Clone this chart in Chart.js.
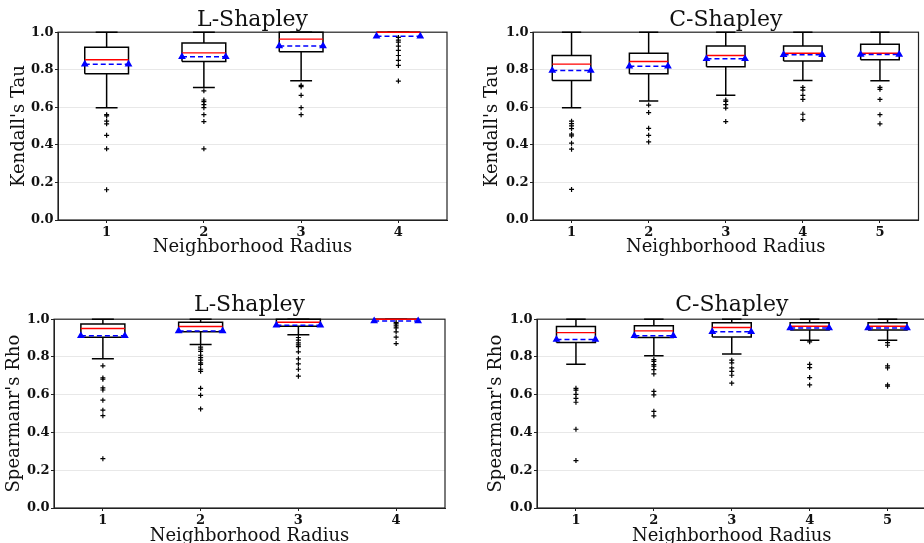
<!DOCTYPE html>
<html>
<head>
<meta charset="utf-8">
<script src="https://cdn.jsdelivr.net/npm/chart.js@4.4.1/dist/chart.umd.min.js"></script>
<style>
  html, body { margin: 0; padding: 0; background: #fff; overflow: hidden; width: 924px; height: 543px; }
  canvas { position: absolute; }
</style>
</head>
<body>
<canvas id="tauL" width="462" height="285" style="left:0;top:0"></canvas>
<canvas id="tauC" width="462" height="285" style="left:462px;top:0"></canvas>
<canvas id="rhoL" width="462" height="275" style="left:0;top:285px"></canvas>
<canvas id="rhoC" width="470" height="275" style="left:462px;top:285px"></canvas>
<script>
// neighborhood radius categories
const radiusL = [1, 2, 3, 4];
const radiusC = [1, 2, 3, 4, 5];
const yTickValues = [0, 0.2, 0.4, 0.6, 0.8, 1.0];

// Kendall's Tau, L-Shapley
const tauL_whiskLo = [0.598, 0.706, 0.742, 1.0];
const tauL_q1 = [0.779, 0.844, 0.896, 1.0];
const tauL_median = [0.853, 0.890, 0.963, 1.0];
const tauL_mean = [0.830, 0.869, 0.927, 0.979];
const tauL_q3 = [0.920, 0.943, 1.0, 1.0];
const tauL_whiskHi = [1.0, 1.0, 1.0, 1.0];
const tauL_fliers = [
  [0.561, 0.554, 0.526, 0.512, 0.451, 0.379, 0.161],
  [0.688, 0.639, 0.630, 0.614, 0.598, 0.561, 0.524, 0.379],
  [0.717, 0.710, 0.664, 0.598, 0.561],
  [0.972, 0.958, 0.947, 0.926, 0.903, 0.876, 0.850, 0.823, 0.740]
];

// Kendall's Tau, C-Shapley
const tauC_whiskLo = [0.598, 0.634, 0.664, 0.743, 0.742];
const tauC_q1 = [0.743, 0.779, 0.816, 0.846, 0.853];
const tauC_median = [0.830, 0.844, 0.876, 0.888, 0.888];
const tauC_mean = [0.796, 0.819, 0.858, 0.880, 0.881];
const tauC_q3 = [0.876, 0.888, 0.926, 0.926, 0.936];
const tauC_whiskHi = [1.0, 1.0, 1.0, 1.0, 1.0];
const tauC_fliers = [
  [0.526, 0.513, 0.501, 0.487, 0.457, 0.448, 0.409, 0.377, 0.163],
  [0.612, 0.572, 0.488, 0.451, 0.416],
  [0.639, 0.632, 0.614, 0.596, 0.524],
  [0.706, 0.692, 0.664, 0.642, 0.563, 0.535],
  [0.706, 0.696, 0.642, 0.561, 0.512]
];

// Spearman's Rho, L-Shapley
const rhoL_whiskLo = [0.790, 0.866, 0.917, 1.0];
const rhoL_q1 = [0.905, 0.933, 0.963, 1.0];
const rhoL_median = [0.951, 0.961, 0.984, 1.0];
const rhoL_mean = [0.912, 0.938, 0.968, 0.991];
const rhoL_q3 = [0.975, 0.984, 1.0, 1.0];
const rhoL_whiskHi = [1.0, 1.0, 1.0, 1.0];
const rhoL_fliers = [
  [0.753, 0.689, 0.682, 0.636, 0.625, 0.571, 0.518, 0.489, 0.261],
  [0.852, 0.841, 0.830, 0.809, 0.797, 0.783, 0.769, 0.761, 0.735, 0.724, 0.634, 0.597, 0.525],
  [0.903, 0.889, 0.875, 0.864, 0.855, 0.827, 0.790, 0.763, 0.735, 0.698],
  [0.982, 0.975, 0.965, 0.954, 0.933, 0.905, 0.871]
];

// Spearman's Rho, C-Shapley
const rhoC_whiskLo = [0.761, 0.807, 0.816, 0.889, 0.889];
const rhoC_q1 = [0.876, 0.903, 0.906, 0.943, 0.943];
const rhoC_median = [0.929, 0.938, 0.956, 0.963, 0.963];
const rhoC_mean = [0.892, 0.912, 0.933, 0.954, 0.954];
const rhoC_q3 = [0.961, 0.965, 0.981, 0.981, 0.981];
const rhoC_whiskHi = [1.0, 1.0, 1.0, 1.0, 1.0];
const rhoC_fliers = [
  [0.634, 0.624, 0.602, 0.581, 0.560, 0.417, 0.251],
  [0.786, 0.777, 0.760, 0.751, 0.733, 0.710, 0.618, 0.599, 0.512, 0.488],
  [0.783, 0.769, 0.742, 0.724, 0.703, 0.661],
  [0.880, 0.761, 0.744, 0.691, 0.652],
  [0.876, 0.862, 0.753, 0.742, 0.652, 0.645]
];

const SERIF = "'DejaVu Serif', serif";

// build line datasets for a matplotlib style boxplot
function boxDatasets(pos, width, lo, q1, med, mean, q3, hi, fliers) {
  const h = width / 2, c = width / 4;
  const gap = x => ({x: x, y: null});
  const box = [], whisk = [], medLine = [], meanLine = [], outl = [];
  pos.forEach((p, i) => {
    box.push({x: p - h, y: q1[i]}, {x: p + h, y: q1[i]}, {x: p + h, y: q3[i]},
             {x: p - h, y: q3[i]}, {x: p - h, y: q1[i]}, gap(p));
    whisk.push({x: p, y: q1[i]}, {x: p, y: lo[i]}, gap(p),
               {x: p - c, y: lo[i]}, {x: p + c, y: lo[i]}, gap(p),
               {x: p, y: q3[i]}, {x: p, y: hi[i]}, gap(p),
               {x: p - c, y: hi[i]}, {x: p + c, y: hi[i]}, gap(p));
    medLine.push({x: p - h, y: med[i]}, {x: p + h, y: med[i]}, gap(p));
    meanLine.push({x: p - h, y: mean[i]}, {x: p + h, y: mean[i]}, gap(p));
    fliers[i].forEach(v => outl.push({x: p, y: v}));
  });
  const line = {showLine: true, spanGaps: false, pointRadius: 0, tension: 0, clip: 6};
  return [
    Object.assign({}, line, {data: box, borderColor: '#000', borderWidth: 1.5, order: 5}),
    Object.assign({}, line, {data: whisk, borderColor: '#000', borderWidth: 1.5, order: 4}),
    Object.assign({}, line, {data: medLine, borderColor: '#ff0000', borderWidth: 1.4, order: 3}),
    Object.assign({}, line, {data: meanLine, borderColor: '#0000ff', borderWidth: 1.5,
      borderDash: [5, 3], pointStyle: 'triangle', pointRadius: 3,
      pointBackgroundColor: '#0000ff', pointBorderColor: '#0000ff', order: 2}),
    {data: outl, showLine: false, pointStyle: 'cross', pointRadius: 2.5,
      pointBorderColor: '#000', pointBorderWidth: 1.2, order: 1, clip: 6}
  ];
}

// black frame round the plot area, like matplotlib spines
const framePlugin = {
  id: 'frame',
  beforeDatasetsDraw(chart) {
    const a = chart.chartArea, ctx = chart.ctx;
    ctx.save();
    ctx.strokeStyle = '#222';
    ctx.lineWidth = 1.2;
    ctx.strokeRect(a.left, a.top, a.right - a.left, a.bottom - a.top);
    ctx.restore();
  }
};

function makePanel(id, p) {
  new Chart(document.getElementById(id), {
    type: 'scatter',
    data: {datasets: boxDatasets(p.pos, p.width, p.lo, p.q1, p.med, p.mean, p.q3, p.hi, p.fliers)},
    options: {
      responsive: false,
      animation: false,
      events: [],
      layout: {padding: {left: 0, right: p.padRight, top: 0, bottom: 0}},
      plugins: {
        legend: {display: false},
        tooltip: {enabled: false},
        title: {
          display: true, text: p.title, fullSize: false, color: '#111',
          font: {family: SERIF, size: 22, weight: 'normal', lineHeight: 1.1},
          padding: {top: p.titleTop, bottom: p.titleBottom}
        }
      },
      scales: {
        x: {
          type: 'linear', min: 0.5, max: p.pos.length + 0.5,
          afterBuildTicks: s => { s.ticks = p.pos.map(v => ({value: v})); },
          afterFit: s => { s.height = p.xHeight; },
          grid: {drawOnChartArea: false, tickLength: 3, tickColor: '#222'},
          border: {color: '#222', width: 1},
          ticks: {color: '#111', padding: 2, font: {family: SERIF, size: 13, weight: 'bold'},
                  callback: v => String(v)},
          title: {display: true, text: 'Neighborhood Radius', color: '#111',
                  font: {family: SERIF, size: 18, weight: 'normal', lineHeight: 1.2},
                  padding: {top: 0, bottom: p.xTitlePad}}
        },
        y: {
          min: 0, max: 1,
          afterBuildTicks: s => { s.ticks = yTickValues.map(v => ({value: v})); },
          afterFit: s => { s.width = p.yWidth; },
          grid: {
            color: c => (c.tick && c.tick.value > 0.01 && c.tick.value < 0.99) ? '#e8e8e8' : 'rgba(0,0,0,0)',
            tickLength: 3, tickColor: '#222'
          },
          border: {color: '#222', width: 1},
          ticks: {color: '#111', padding: 1.5, font: {family: SERIF, size: 13, weight: 'bold'},
                  callback: v => v.toFixed(1)},
          title: {display: true, text: p.yLabel, color: '#111',
                  font: {family: SERIF, size: 18, weight: 'normal', lineHeight: 1.2},
                  padding: {top: p.yTitlePad, bottom: 0}}
        }
      }
    },
    plugins: [framePlugin]
  });
}

makePanel('tauL', {
  title: 'L-Shapley', yLabel: "Kendall's Tau", pos: radiusL, width: 0.45,
  lo: tauL_whiskLo, q1: tauL_q1, med: tauL_median, mean: tauL_mean, q3: tauL_q3, hi: tauL_whiskHi, fliers: tauL_fliers,
  yWidth: 58, padRight: 15, xHeight: 65, titleTop: 8, titleBottom: 0, xTitlePad: 27, yTitlePad: 9
});
makePanel('tauC', {
  title: 'C-Shapley', yLabel: "Kendall's Tau", pos: radiusC, width: 0.5,
  lo: tauC_whiskLo, q1: tauC_q1, med: tauC_median, mean: tauC_mean, q3: tauC_q3, hi: tauC_whiskHi, fliers: tauC_fliers,
  yWidth: 71, padRight: 1, xHeight: 65, titleTop: 8, titleBottom: 0, xTitlePad: 27, yTitlePad: 20
});
makePanel('rhoL', {
  title: 'L-Shapley', yLabel: "Spearmanr's Rho", pos: radiusL, width: 0.45,
  lo: rhoL_whiskLo, q1: rhoL_q1, med: rhoL_median, mean: rhoL_mean, q3: rhoL_q3, hi: rhoL_whiskHi, fliers: rhoL_fliers,
  yWidth: 54, padRight: 17, xHeight: 52, titleTop: 8, titleBottom: 2, xTitlePad: 13, yTitlePad: 4
});
makePanel('rhoC', {
  title: 'C-Shapley', yLabel: "Spearmanr's Rho", pos: radiusC, width: 0.5,
  lo: rhoC_whiskLo, q1: rhoC_q1, med: rhoC_median, mean: rhoC_mean, q3: rhoC_q3, hi: rhoC_whiskHi, fliers: rhoC_fliers,
  yWidth: 75, padRight: 5, xHeight: 52, titleTop: 8, titleBottom: 2, xTitlePad: 13, yTitlePad: 24
});
</script>
</body>
</html>
